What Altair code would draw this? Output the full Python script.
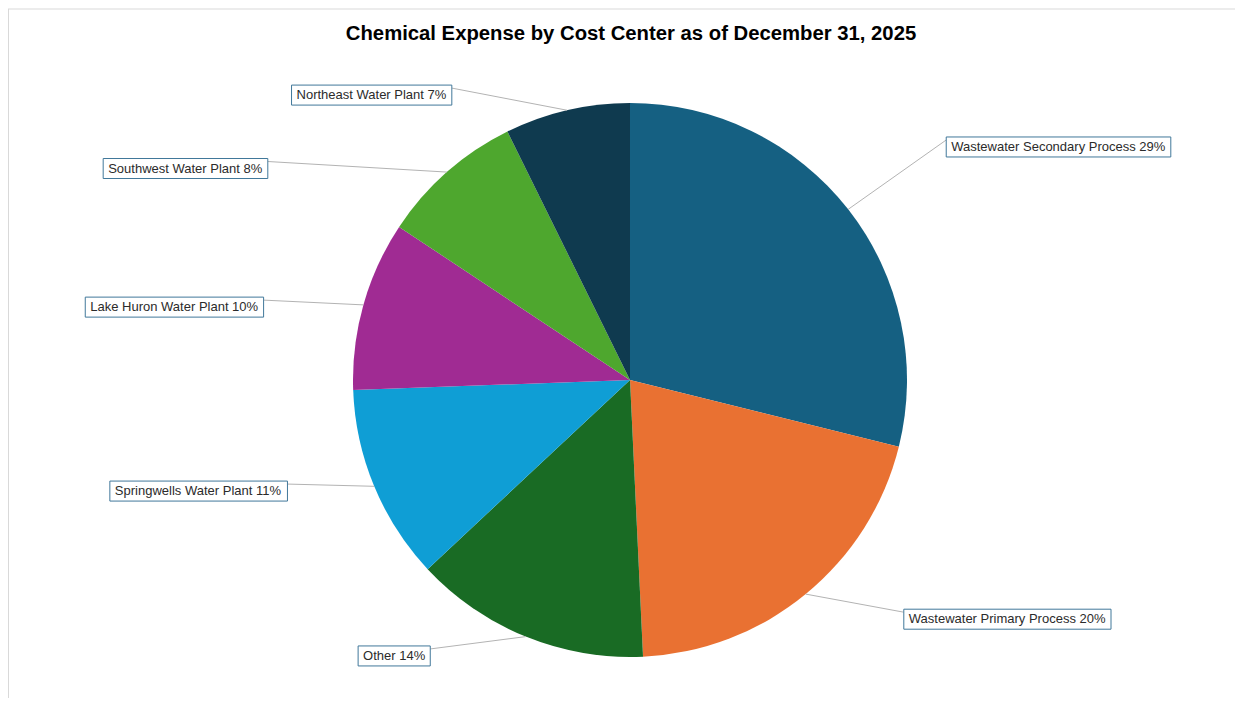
import altair as alt
import pandas as pd

# ---------------- data ----------------
names = [
    "Wastewater Secondary Process",
    "Wastewater Primary Process",
    "Other",
    "Springwells Water Plant",
    "Lake Huron Water Plant",
    "Southwest Water Plant",
    "Northeast Water Plant",
]
shares = [28.9, 20.4, 13.8, 11.4, 9.9, 8.4, 7.3]
colors = ["#156082", "#E97132", "#196B24", "#0F9ED5", "#A02B93", "#4EA72E", "#0F3A4F"]

title_text = "Chemical Expense by Cost Center as of December 31, 2025"

# ---------------- layout (label leader end points, polar around pie centre) ----------------
label_angle = [52.8, 130.3, 216.6, 253.1, 282.3, 301.1, 328.6]   # degrees, clockwise from top
label_radius = [397, 359, 335, 358, 375, 423, 342]               # px

CX, CY, R = 620, 370, 277
FONT = "Liberation Sans"
LABEL_SIZE = 13
BOX_PAD = 5

# Helvetica/Arial advance widths (per 1000 em) for estimating label box widths
_W = {" ": 278, "%": 889, ",": 278}
for ch in "0123456789":
    _W[ch] = 556
_W.update({"A": 667, "B": 667, "C": 722, "D": 722, "E": 667, "F": 611, "G": 778, "H": 722,
           "I": 278, "J": 500, "K": 667, "L": 556, "M": 833, "N": 722, "O": 778, "P": 667,
           "Q": 778, "R": 722, "S": 667, "T": 611, "U": 722, "V": 667, "W": 944, "X": 667,
           "Y": 667, "Z": 611, "a": 556, "b": 556, "c": 500, "d": 556, "e": 556, "f": 278,
           "g": 556, "h": 556, "i": 222, "j": 222, "k": 500, "l": 222, "m": 833, "n": 556,
           "o": 556, "p": 556, "q": 556, "r": 333, "s": 500, "t": 278, "u": 556, "v": 500,
           "w": 722, "x": 500, "y": 500, "z": 500})


def text_width(s, size):
    return sum(_W.get(c, 556) for c in s) * size / 1000.0


total_share = sum(shares)
labels = [f"{n} {round(v / total_share * 100):.0f}%" for n, v in zip(names, shares)]
box_w = [text_width(l, LABEL_SIZE) + 2 * BOX_PAD for l in labels]

df = pd.DataFrame({
    "name": names,
    "value": shares,
    "order": list(range(len(names))),
    "label": labels,
    "lang": label_angle,
    "lrad": label_radius,
    "bw": box_w,
})

base = alt.Chart(df)

pie = base.mark_arc(outerRadius=R).encode(
    theta=alt.Theta("value:Q", stack=True),
    color=alt.Color("name:N", scale=alt.Scale(domain=names, range=colors), legend=None),
    order=alt.Order("order:Q", sort="ascending"),
    x=alt.value(CX),
    y=alt.value(CY),
)

geo = (
    base.transform_joinaggregate(total="sum(value)")
    .transform_window(cum="sum(value)", sort=[alt.SortField("order")], frame=[None, 0])
    .transform_calculate(
        mid="(datum.cum - datum.value / 2) / datum.total * 2 * PI",
        ex=f"{CX} + {R} * sin(datum.mid)",
        ey=f"{CY} - {R} * cos(datum.mid)",
        lx=f"{CX} + datum.lrad * sin(datum.lang * PI / 180)",
        ly=f"{CY} - datum.lrad * cos(datum.lang * PI / 180)",
        bx1="datum.lang < 180 ? datum.lx : datum.lx - datum.bw",
        bx2="datum.lang < 180 ? datum.lx + datum.bw : datum.lx",
        by1="datum.ly - 3",
        by2="datum.ly + 17",
        tx=f"(datum.lang < 180 ? datum.lx : datum.lx - datum.bw) + {BOX_PAD}",
        ty="datum.ly + 7",
    )
)

leaders = geo.mark_rule(color="#B3B3B3", strokeWidth=1).encode(
    x=alt.X("ex:Q", scale=None, axis=None),
    y=alt.Y("ey:Q", scale=None, axis=None),
    x2="lx:Q",
    y2="ly:Q",
)

boxes = geo.mark_rect(fill="white", stroke="#41789A", strokeWidth=1).encode(
    x=alt.X("bx1:Q", scale=None, axis=None),
    x2="bx2:Q",
    y=alt.Y("by1:Q", scale=None, axis=None),
    y2="by2:Q",
)

texts = geo.mark_text(
    align="left", baseline="middle", font=FONT, fontSize=LABEL_SIZE, color="#2B2B2B"
).encode(
    x=alt.X("tx:Q", scale=None, axis=None),
    y=alt.Y("ty:Q", scale=None, axis=None),
    text="label:N",
)

title = alt.Chart(pd.DataFrame({"t": [title_text]})).mark_text(
    font=FONT, fontSize=20.3, fontWeight="bold", color="#000000", align="center", baseline="alphabetic"
).encode(x=alt.value(621), y=alt.value(30), text="t:N")

frame_top = alt.Chart(pd.DataFrame({"a": [0]})).mark_rule(color="#D9D9D9", strokeWidth=1).encode(
    x=alt.value(-2), x2=alt.value(1225), y=alt.value(-1)
)
frame_left = alt.Chart(pd.DataFrame({"a": [0]})).mark_rule(color="#D9D9D9", strokeWidth=1).encode(
    x=alt.value(-1.5), y=alt.value(-1), y2=alt.value(700)
)

chart = (
    alt.layer(frame_top, frame_left, pie, leaders, boxes, texts, title)
    .properties(
        width=1225,
        height=688,
        autosize="none",
        padding={"left": 2, "top": 2, "right": 0, "bottom": 0},
    )
    .configure_view(stroke=None)
)

chart.save("out.html", embed_options={"renderer": "svg", "actions": False})
